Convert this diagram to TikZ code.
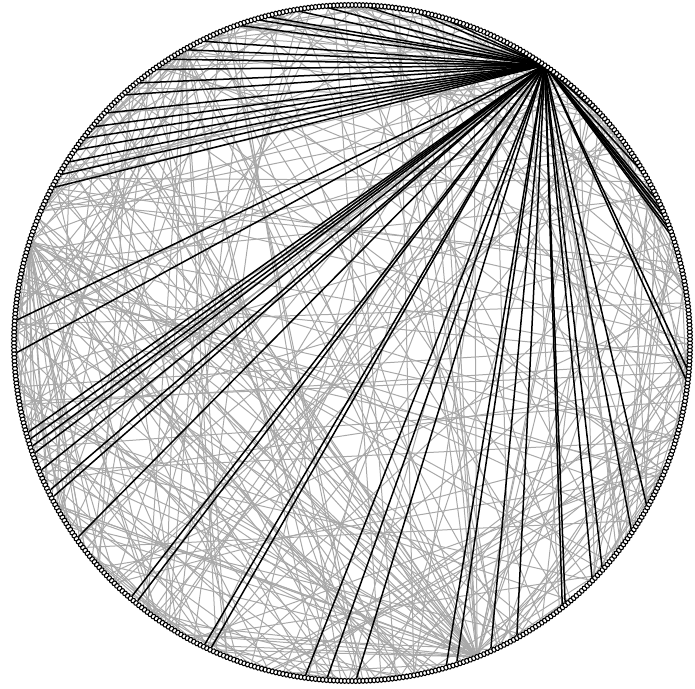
\documentclass[tikz,border=0pt]{standalone}
\usetikzlibrary{shapes.geometric}
\definecolor{edgegray}{RGB}{168,168,168}
\pgfdeclarelayer{background}
\pgfsetlayers{background,main}
\begin{document}
\begin{tikzpicture}[x=1pt,y=1pt,
  vtx/.style={ellipse,draw=black,fill=white,line width=1.05pt,minimum width=5pt,minimum height=4pt,inner sep=0pt},
  gedge/.style={draw=edgegray,line width=1pt},
  bedge/.style={draw=black,line width=1.5pt}]
\useasboundingbox (0,0) rectangle (695,688);
\begin{scope}[shift={(352,345)}]
  % vertices on the circle
  \foreach \i in {0,...,579}
    \node[vtx,rotate={\i*0.6206897}] (n\i) at ({\i*0.6206897}:338pt) {};
  \begin{pgfonlayer}{background}
    % gray edges
    \pgfmathsetseed{4242}
    \foreach \e in {1,...,290}{
      \pgfmathtruncatemacro\p{random(0,579)}
      \pgfmathtruncatemacro\q{random(0,579)}
      \ifnum\p=\q\else\draw[gedge] (n\p) -- (n\q);\fi
    }
    % gray hub near the bottom
    \foreach \e in {1,...,34}{
      \pgfmathtruncatemacro\q{random(0,400)}
      \draw[gedge] (n470) -- (n\q);
    }
    % gray hub on the left
    \foreach \e in {1,...,20}{
      \pgfmathtruncatemacro\q{mod(random(300,560),580)}
      \draw[gedge] (n262) -- (n\q);
    }
    % gray hub top left
    \foreach \e in {1,...,14}{
      \pgfmathtruncatemacro\q{random(220,520)}
      \draw[gedge] (n193) -- (n\q);
    }
    % black edges from the main hub
    \foreach \a in {18,19.5,21,22.5,24,30,40,47,62,68,75,80,88,95,100,105,106.5,110,116.5,119.7,123,126,129.5,133,137,140,142.6,145,147.7,150.4,152.6,176,182,195.7,197,198.2,199.3,202.5,206,207,215.5,229,230,243.7,245,262,265.6,270.5,286,288,294,299,308.4,308.9,315,318,326,331,353,355}{
      \pgfmathtruncatemacro\k{mod(round(\a*1.6111111),580)}
      \draw[bedge] (n89) -- (n\k);
    }
  \end{pgfonlayer}
\end{scope}
\end{tikzpicture}
\end{document}
